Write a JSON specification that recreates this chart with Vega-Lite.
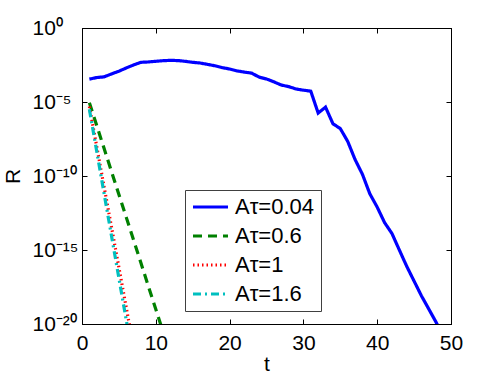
{
  "$schema": "https://vega.github.io/schema/vega-lite/v6.json",
  "width": 369,
  "height": 296,
  "autosize": {"type": "none"},
  "padding": {"left": 82, "top": 28, "right": 47, "bottom": 51},
  "background": "white",
  "config": {
    "font": "Liberation Sans",
    "view": {"stroke": "#000", "strokeWidth": 1},
    "axis": {"labelColor": "#000", "titleColor": "#000", "domainColor": "#000", "tickColor": "#000", "grid": false, "labelFont": "Liberation Sans", "titleFont": "Liberation Sans", "titleFontWeight": "normal", "labelFontSize": 21, "titleFontSize": 21}
  },
  "data": {
    "values": [
      {"t": 1, "R": 3.5e-4, "s": "Aτ=0.04"},
      {"t": 2, "R": 4.5e-4, "s": "Aτ=0.04"},
      {"t": 3, "R": 5e-4, "s": "Aτ=0.04"},
      {"t": 4, "R": 7.9e-4, "s": "Aτ=0.04"},
      {"t": 5, "R": 1.2e-3, "s": "Aτ=0.04"},
      {"t": 6, "R": 2e-3, "s": "Aτ=0.04"},
      {"t": 7, "R": 3.2e-3, "s": "Aτ=0.04"},
      {"t": 8, "R": 4.8e-3, "s": "Aτ=0.04"},
      {"t": 9, "R": 5.1e-3, "s": "Aτ=0.04"},
      {"t": 10, "R": 5.6e-3, "s": "Aτ=0.04"},
      {"t": 11, "R": 6.2e-3, "s": "Aτ=0.04"},
      {"t": 12, "R": 6.5e-3, "s": "Aτ=0.04"},
      {"t": 13, "R": 6.3e-3, "s": "Aτ=0.04"},
      {"t": 14, "R": 5.6e-3, "s": "Aτ=0.04"},
      {"t": 15, "R": 4.8e-3, "s": "Aτ=0.04"},
      {"t": 16, "R": 4.3e-3, "s": "Aτ=0.04"},
      {"t": 17, "R": 3.5e-3, "s": "Aτ=0.04"},
      {"t": 18, "R": 2.8e-3, "s": "Aτ=0.04"},
      {"t": 19, "R": 2.1e-3, "s": "Aτ=0.04"},
      {"t": 20, "R": 1.7e-3, "s": "Aτ=0.04"},
      {"t": 21, "R": 1.26e-3, "s": "Aτ=0.04"},
      {"t": 22, "R": 1.05e-3, "s": "Aτ=0.04"},
      {"t": 23, "R": 8.9e-4, "s": "Aτ=0.04"},
      {"t": 24, "R": 4.8e-4, "s": "Aτ=0.04"},
      {"t": 25, "R": 3.6e-4, "s": "Aτ=0.04"},
      {"t": 26, "R": 2.3e-4, "s": "Aτ=0.04"},
      {"t": 27, "R": 1.4e-4, "s": "Aτ=0.04"},
      {"t": 28, "R": 1.1e-4, "s": "Aτ=0.04"},
      {"t": 29, "R": 7.6e-5, "s": "Aτ=0.04"},
      {"t": 30, "R": 6.3e-5, "s": "Aτ=0.04"},
      {"t": 31, "R": 5.4e-5, "s": "Aτ=0.04"},
      {"t": 32, "R": 1.8e-6, "s": "Aτ=0.04"},
      {"t": 33, "R": 4.5e-6, "s": "Aτ=0.04"},
      {"t": 34, "R": 3.4e-7, "s": "Aτ=0.04"},
      {"t": 35, "R": 1.6e-7, "s": "Aτ=0.04"},
      {"t": 36, "R": 2.2e-8, "s": "Aτ=0.04"},
      {"t": 37, "R": 1.3e-9, "s": "Aτ=0.04"},
      {"t": 38, "R": 1.3e-10, "s": "Aτ=0.04"},
      {"t": 39, "R": 6.3e-12, "s": "Aτ=0.04"},
      {"t": 40, "R": 7.9e-13, "s": "Aτ=0.04"},
      {"t": 41, "R": 7.1e-14, "s": "Aτ=0.04"},
      {"t": 42, "R": 1.3e-14, "s": "Aτ=0.04"},
      {"t": 43, "R": 1e-15, "s": "Aτ=0.04"},
      {"t": 44, "R": 7.9e-17, "s": "Aτ=0.04"},
      {"t": 45, "R": 7.9e-18, "s": "Aτ=0.04"},
      {"t": 46, "R": 7.9e-19, "s": "Aτ=0.04"},
      {"t": 47, "R": 1e-19, "s": "Aτ=0.04"},
      {"t": 48, "R": 1.26e-20, "s": "Aτ=0.04"},
      {"t": 49, "R": 1.26e-21, "s": "Aτ=0.04"},
      {"t": 1, "R": 8.9e-6, "s": "Aτ=0.6"},
      {"t": 2, "R": 2.5e-7, "s": "Aτ=0.6"},
      {"t": 3, "R": 7.1e-9, "s": "Aτ=0.6"},
      {"t": 4, "R": 2e-10, "s": "Aτ=0.6"},
      {"t": 5, "R": 5.6e-12, "s": "Aτ=0.6"},
      {"t": 6, "R": 1.6e-13, "s": "Aτ=0.6"},
      {"t": 7, "R": 4.5e-15, "s": "Aτ=0.6"},
      {"t": 8, "R": 1.26e-16, "s": "Aτ=0.6"},
      {"t": 9, "R": 3.5e-18, "s": "Aτ=0.6"},
      {"t": 10, "R": 1e-19, "s": "Aτ=0.6"},
      {"t": 11, "R": 2.8e-21, "s": "Aτ=0.6"},
      {"t": 1, "R": 5e-6, "s": "Aτ=1"},
      {"t": 2, "R": 9.5e-9, "s": "Aτ=1"},
      {"t": 3, "R": 1.8e-11, "s": "Aτ=1"},
      {"t": 4, "R": 3.5e-14, "s": "Aτ=1"},
      {"t": 5, "R": 6.6e-17, "s": "Aτ=1"},
      {"t": 6, "R": 1.26e-19, "s": "Aτ=1"},
      {"t": 7, "R": 2.4e-22, "s": "Aτ=1"},
      {"t": 1, "R": 3.2e-6, "s": "Aτ=1.6"},
      {"t": 2, "R": 4.5e-9, "s": "Aτ=1.6"},
      {"t": 3, "R": 6.3e-12, "s": "Aτ=1.6"},
      {"t": 4, "R": 8.9e-15, "s": "Aτ=1.6"},
      {"t": 5, "R": 1.26e-17, "s": "Aτ=1.6"},
      {"t": 6, "R": 1.8e-20, "s": "Aτ=1.6"},
      {"t": 7, "R": 2.5e-23, "s": "Aτ=1.6"}
    ]
  },
  "resolve": {"axis": {"x": "independent", "y": "independent"}},
  "layer": [
    {
      "mark": {"type": "line", "clip": true},
      "encoding": {
        "x": {"field": "t", "type": "quantitative", "scale": {"domain": [0, 50], "nice": false},
          "axis": {"orient": "bottom", "values": [0, 10, 20, 30, 40, 50], "title": "t", "tickSize": -5, "labelPadding": 13, "titlePadding": 0, "labelFlush": false}},
        "y": {"field": "R", "type": "quantitative", "scale": {"type": "log", "domain": [1e-20, 1], "nice": false},
          "axis": {"orient": "left", "values": [1, 1e-5, 1e-10, 1e-15, 1e-20], "title": "R", "tickSize": -5, "labelPadding": 55, "labelAlign": "left", "labelFlush": false, "titlePadding": 9,
            "labelExpr": "datum.value > 0.1 ? '10⁰' : datum.value > 1e-7 ? '10⁻⁵' : datum.value > 1e-12 ? '10⁻¹⁰' : datum.value > 1e-17 ? '10⁻¹⁵' : '10⁻²⁰'"}},
        "color": {"field": "s", "type": "nominal",
          "scale": {"domain": ["Aτ=0.04", "Aτ=0.6", "Aτ=1", "Aτ=1.6"], "range": ["#0000ff", "#008000", "#ff0000", "#00bfbf"]},
          "legend": {"title": null, "orient": "none", "legendX": 103, "legendY": 162, "fillColor": "white", "strokeColor": "#404040", "padding": 6, "rowPadding": 7, "clipHeight": 22, "labelFontSize": 22, "labelFont": "Liberation Sans", "labelColor": "#000", "symbolType": "stroke", "symbolSize": 1225, "labelOffset": 5, "labelLimit": 200}},
        "strokeDash": {"field": "s", "type": "nominal",
          "scale": {"domain": ["Aτ=0.04", "Aτ=0.6", "Aτ=1", "Aτ=1.6"], "range": [[1, 0], [9, 6], [1.5, 3], [8, 4, 2, 4]]}},
        "strokeWidth": {"field": "s", "type": "nominal",
          "scale": {"domain": ["Aτ=0.04", "Aτ=0.6", "Aτ=1", "Aτ=1.6"], "range": [3.2, 3.2, 1.5, 3.2]}}
      }
    },
    {
      "mark": {"type": "point", "opacity": 0},
      "encoding": {
        "x": {"field": "t", "type": "quantitative",
          "axis": {"orient": "top", "values": [0, 10, 20, 30, 40, 50], "title": null, "labels": false, "tickSize": -5}},
        "y": {"field": "R", "type": "quantitative",
          "axis": {"orient": "right", "values": [1, 1e-5, 1e-10, 1e-15, 1e-20], "title": null, "labels": false, "tickSize": -5}}
      }
    }
  ]
}
